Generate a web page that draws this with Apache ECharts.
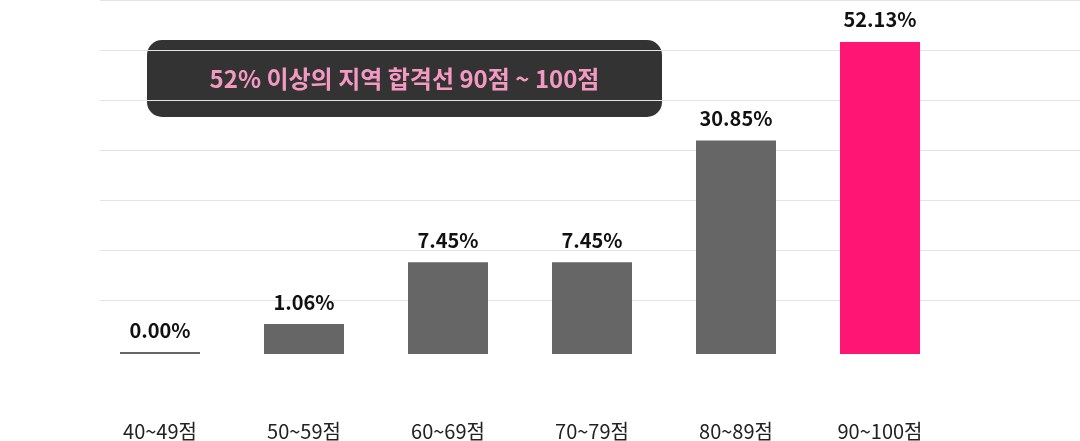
<!DOCTYPE html>
<html>
<head>
<meta charset="utf-8">
<script src="https://cdn.jsdelivr.net/npm/echarts@6/dist/echarts.min.js"></script>
<style>
html,body{margin:0;padding:0;background:#fff;}
#chart{width:1080px;height:441px;}
</style>
</head>
<body>
<div id="chart"></div>
<script>
var categories = ['40~49점', '50~59점', '60~69점', '70~79점', '80~89점', '90~100점'];
var percentLabels = ['0.00%', '1.06%', '7.45%', '7.45%', '30.85%', '52.13%'];
var barHeights = [2, 30, 92, 92, 214, 313];
var highlightIndex = 5;
var annotationText = '52% 이상의 지역 합격선 90점 ~ 100점';

var FONT = '"Noto Sans CJK KR", "Noto Sans", sans-serif';
var chart = echarts.init(document.getElementById('chart'));

chart.setOption({
  animation: false,
  backgroundColor: '#ffffff',
  grid: [
    { left: 88, width: 864, top: 0, height: 355, containLabel: false },
    { left: 100, right: 0, top: 0, height: 300, containLabel: false }
  ],
  xAxis: [
    {
      type: 'category', gridIndex: 0, data: categories,
      axisLine: { show: false }, axisTick: { show: false },
      axisLabel: { margin: 67, color: '#222', fontSize: 20, fontFamily: FONT }
    },
    { type: 'value', gridIndex: 1, show: false }
  ],
  yAxis: [
    {
      type: 'value', gridIndex: 0, min: 0, max: 355, show: false,
      splitLine: { show: false }
    },
    {
      type: 'value', gridIndex: 1, min: 0, max: 300, interval: 50,
      axisLine: { show: false }, axisTick: { show: false }, axisLabel: { show: false },
      splitLine: { show: true, lineStyle: { color: '#e3e3e3', width: 1 } }
    }
  ],
  series: [
    {
      type: 'bar', xAxisIndex: 0, yAxisIndex: 0, z: 3,
      barWidth: 80,
      data: barHeights.map(function (v, i) {
        return {
          value: v,
          itemStyle: { color: i === highlightIndex ? '#ff1675' : '#666666' }
        };
      }),
      label: {
        show: true, position: 'top', distance: 12,
        color: '#111', fontSize: 20, fontWeight: 'bold', fontFamily: FONT,
        formatter: function (p) { return percentLabels[p.dataIndex]; }
      }
    }
  ],
  graphic: [
    {
      type: 'group', left: 147, top: 40, z: 10,
      children: [
        {
          type: 'rect',
          shape: { x: 0, y: 0, width: 515, height: 77, r: 15 },
          style: { fill: 'rgba(0,0,0,0.8)' }
        },
        {
          type: 'text',
          x: 257.5, y: 39,
          style: {
            text: annotationText, fill: '#f49ac2',
            font: 'bold 24px ' + FONT,
            align: 'center', verticalAlign: 'middle'
          }
        }
      ]
    }
  ]
});
</script>
</body>
</html>
